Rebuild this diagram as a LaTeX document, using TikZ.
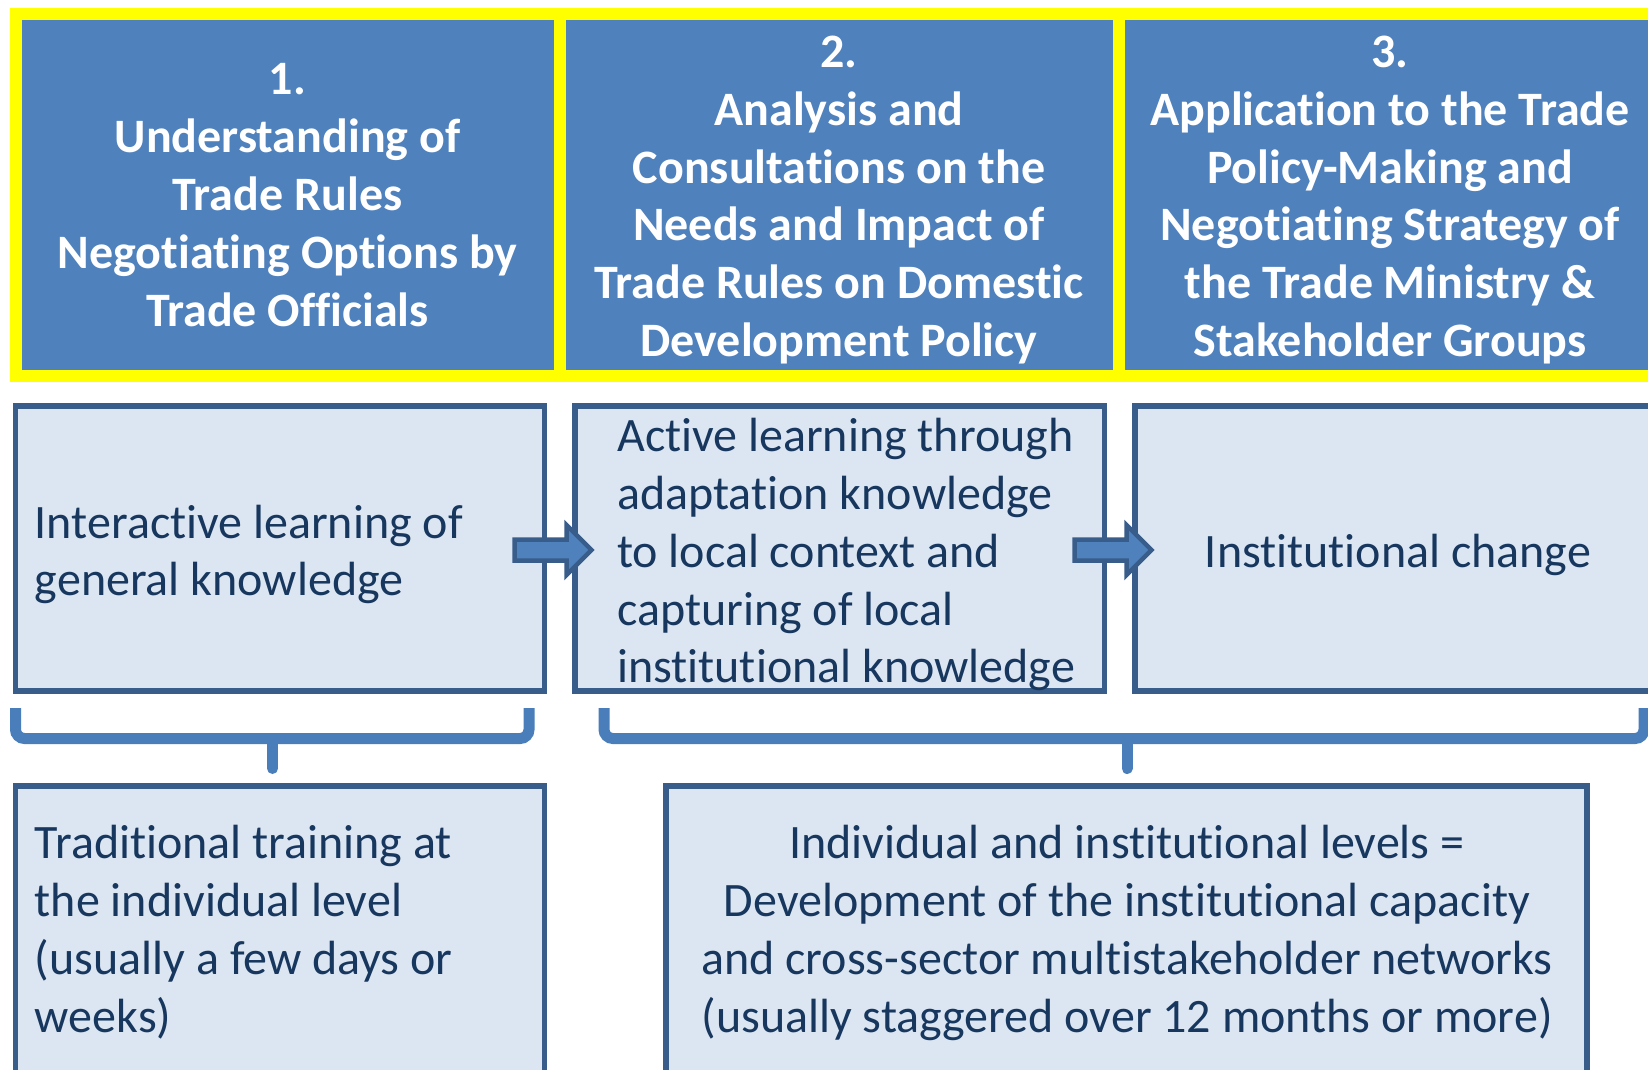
\documentclass[tikz,border=0pt]{standalone}
\usepackage{fontspec}
\setmainfont{Carlito}[Ligatures=NoCommon]
\definecolor{hdrblue}{HTML}{4F81BD}
\definecolor{hlyellow}{HTML}{FFFF00}
\definecolor{boxfill}{HTML}{DCE6F2}
\definecolor{boxline}{HTML}{385D8A}
\definecolor{boxtext}{HTML}{17375E}
\definecolor{braceblue}{HTML}{4A7EBB}
\begin{document}
\begin{tikzpicture}[x=1pt,y=-1pt,
  hdrcell/.style={fill=hdrblue,draw=hlyellow,line width=12pt,inner sep=0pt,minimum height=362pt},
  hdrtext/.style={text=white,font=\fontsize{48}{57.8}\selectfont\bfseries,align=center,inner sep=0pt},
  lbox/.style={fill=boxfill,draw=boxline,line width=5.5pt,inner sep=0pt},
  btext/.style={text=boxtext,font=\fontsize{48}{57.8}\selectfont,inner sep=0pt},
  blockarrow/.style={fill=hdrblue,draw=boxline,line width=4.5pt,line join=miter},
  bracestyle/.style={draw=braceblue,line width=11pt,rounded corners=9pt},
  stemstyle/.style={draw=braceblue,line width=11pt,line cap=round}]
\path[use as bounding box] (0,0) rectangle (1648,1069);
\clip (0,0) rectangle (1648,1069);
\fill[white] (0,0) rectangle (1648,1069);
% header cells
\node[hdrcell,minimum width=544.4pt] (c1) at (287.8,194.7) {};
\node[hdrcell,minimum width=558.5pt] (c2) at (839.25,194.7) {};
\node[hdrcell,minimum width=543pt] (c3) at (1390,194.7) {};
\node[hdrtext] (t1) at (287.5,195) {1.\\Understanding of\\Trade Rules\\Negotiating Options by\\Trade Officials};
\node[hdrtext] (t2) at (839,200) {2.\\Analysis and\\Consultations on the\\Needs and Impact of\\Trade Rules on Domestic\\Development Policy};
\node[hdrtext] (t3) at (1390,200) {3.\\Application to the Trade\\Policy-Making and\\Negotiating Strategy of\\the Trade Ministry \&\\Stakeholder Groups};
% light boxes
\node[lbox,minimum width=529pt,minimum height=285pt] (b1) at (280,548.5) {};
\node[lbox,minimum width=529.5pt,minimum height=285pt] (b2) at (839.75,548.5) {};
\node[lbox,minimum width=535pt,minimum height=285pt] (b3) at (1402.5,548.5) {};
\node[lbox,minimum width=529pt,minimum height=304pt] (d1) at (280,938) {};
\node[lbox,minimum width=921pt,minimum height=304pt] (d2) at (1126.5,938) {};
\node[btext,anchor=west,align=left] (bt1) at (34.7,554.5) {Interactive learning of\\general knowledge};
\node[btext,anchor=west,align=left] (bt2) at (617,554.8) {Active learning through\\adaptation knowledge\\to local context and\\capturing of local\\institutional knowledge};
\node[btext] (bt3) at (1398,554.5) {Institutional change};
\node[btext,anchor=west,align=left] (dt1) at (34.7,932) {Traditional training at\\the individual level\\(usually a few days or\\weeks)};
\node[btext,align=center] (dt2) at (1127,933) {Individual and institutional levels =\\Development of the institutional capacity\\and cross-sector multistakeholder networks\\(usually staggered over 12 months or more)};
% block arrows
\coordinate (a1) at (514.5,550);
\coordinate (a2) at (1074.5,550);
\foreach \s in {a1,a2}{
  \draw[blockarrow] (\s) ++(0,-10.5) -- ++(52,0) -- ++(0,-14.5) -- ++(25,25) -- ++(-25,25) -- ++(0,-14.5) -- ++(-52,0) -- cycle;
}
% braces
\draw[bracestyle] (15.5,708) -- (15.5,738.5) -- (529,738.5) -- (529,708);
\coordinate (s1) at (272.5,738.5);
\coordinate (e1) at (272.5,768.5);
\draw[stemstyle] (s1) -- (e1);
\draw[bracestyle] (604,708) -- (604,738.5) -- (1644,738.5) -- (1644,708);
\coordinate (s2) at (1127,738.5);
\coordinate (e2) at (1127,768.5);
\draw[stemstyle] (s2) -- (e2);
\end{tikzpicture}
\end{document}
